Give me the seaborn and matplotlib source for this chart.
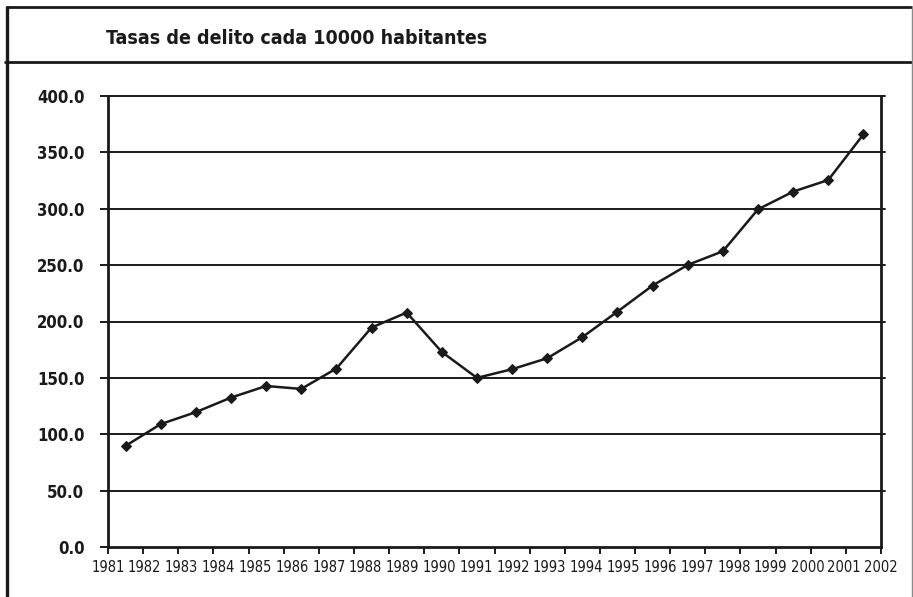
import matplotlib
matplotlib.use("Agg")
import matplotlib.pyplot as plt
from matplotlib.lines import Line2D
import numpy as np
import pandas as pd
import seaborn as sns

# Crime rate per 10,000 inhabitants, yearly series
years = [1981, 1982, 1983, 1984, 1985, 1986, 1987, 1988, 1989, 1990, 1991,
         1992, 1993, 1994, 1995, 1996, 1997, 1998, 1999, 2000, 2001, 2002]
rates = [89.7, 109.0, 119.6, 132.5, 142.8, 140.2, 158.3, 194.6, 207.9, 173.0, 150.0,
         157.7, 167.4, 186.1, 208.8, 231.9, 250.2, 262.3, 299.5, 315.2, 325.5, 366.0]
year_labels = [str(y) for y in years]
y_ticks = [0, 50, 100, 150, 200, 250, 300, 350, 400]
title = "Tasas de delito cada 10000 habitantes"

sns.set_theme(style="white")
plt.rcParams["font.family"] = ["DejaVu Sans"]

W, H = 913, 597
fig = plt.figure(figsize=(W / 100, H / 100), dpi=100)
fig.patch.set_facecolor("white")

left, right, top, bottom = 108, 881, 96, 547
ax = fig.add_axes([left / W, 1 - bottom / H, (right - left) / W, (bottom - top) / H])

# categories sit in the middle of each slot on the category axis
df = pd.DataFrame({"pos": np.arange(len(years)) + 0.5, "rate": rates})
sns.lineplot(data=df, x="pos", y="rate", ax=ax, color="#1a1a1a", linewidth=1.8,
             marker="D", markersize=5.5, markeredgecolor="#1a1a1a",
             markerfacecolor="#1a1a1a", zorder=3)

ax.set_xlim(0, len(years))
ax.set_ylim(0, 400)
ax.set_xlabel("")
ax.set_ylabel("")

# horizontal gridlines, poking slightly past the right axis
for v in y_ticks[1:]:
    ax.axhline(v, xmin=0, xmax=1.005, color="#1a1a1a", linewidth=1.4, zorder=1,
               clip_on=False)

# y axis labels
ax.set_yticks(y_ticks)
ax.set_yticklabels([f"{v:.1f}" for v in y_ticks], fontsize=12, fontweight="bold",
                   fontstretch="condensed", color="#1a1a1a")
ax.tick_params(axis="y", which="major", direction="out", length=6, width=1.4,
               color="#1a1a1a", pad=11, left=True, right=False)

# x axis: ticks on slot boundaries, labels spread across the axis
ax.xaxis.remove_overlapping_locs = False
ax.set_xticks(np.arange(len(years) + 1))
ax.set_xticklabels([])
ax.tick_params(axis="x", which="major", direction="out", length=5, width=1.4,
               color="#1a1a1a", bottom=True)
ax.set_xticks(np.linspace(0, len(years), len(years)), minor=True)
ax.set_xticklabels(year_labels, minor=True, fontsize=10.5, fontstretch="condensed",
                   color="#1a1a1a")
ax.tick_params(axis="x", which="minor", length=0, pad=9, bottom=True)

for side in ["left", "right", "bottom"]:
    ax.spines[side].set_visible(True)
    ax.spines[side].set_color("#1a1a1a")
    ax.spines[side].set_linewidth(2.0)
    ax.spines[side].set_zorder(2)
ax.spines["top"].set_visible(False)

# outer frame and title band
def hline(y, x0, x1, color, lw):
    fig.add_artist(Line2D([x0 / W, x1 / W], [1 - y / H, 1 - y / H],
                          transform=fig.transFigure, color=color, linewidth=lw,
                          solid_capstyle="butt"))

def vline(x, y0, y1, color, lw):
    fig.add_artist(Line2D([x / W, x / W], [1 - y0 / H, 1 - y1 / H],
                          transform=fig.transFigure, color=color, linewidth=lw,
                          solid_capstyle="butt"))

hline(7, 6, 912, "#1a1a1a", 2.0)
hline(62, 4, 912, "#1a1a1a", 2.0)
vline(7, 6, 597, "#1a1a1a", 2.4)
vline(911.5, 6, 597, "#8a8a8a", 1.0)

fig.text(106 / W, 1 - 38 / H, title, fontsize=14, fontweight="bold",
         fontstretch="condensed", color="#1a1a1a", ha="left", va="center")

fig.savefig("out.png", dpi=100, facecolor="white")
